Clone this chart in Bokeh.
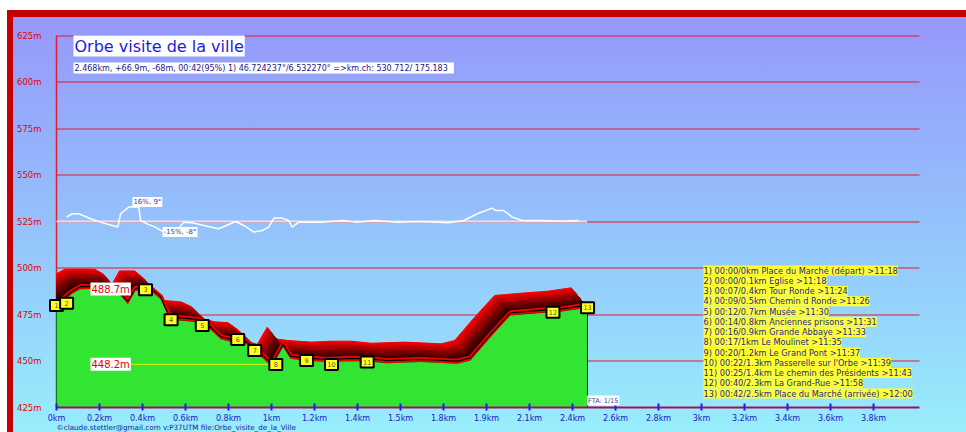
import numpy as np
from bokeh.plotting import figure
from bokeh.models import Range1d, LinearAxis, FixedTicker, Label
from bokeh.core.properties import value
from bokeh.embed import file_html
from bokeh.resources import INLINE

# ---------------- data ----------------
dist_km = [0.0, 0.074, 0.112, 0.150, 0.251, 0.290, 0.332, 0.367, 0.437, 0.484,
           0.518, 0.546, 0.654, 0.701, 0.763, 0.809, 0.871, 0.918, 0.980, 1.008,
           1.054, 1.088, 1.150, 1.259, 1.352, 1.445, 1.538, 1.693, 1.864, 1.926,
           2.019, 2.112, 2.236, 2.360, 2.468]
elev_m = [479.0, 486.1, 488.6, 488.7, 488.6, 486.1, 480.5, 487.7, 487.7, 483.2,
          474.3, 472.1, 471.0, 468.5, 461.7, 460.3, 459.9, 456.0, 449.2, 448.2,
          457.4, 451.2, 450.3, 449.4, 449.9, 449.9, 448.8, 449.4, 448.5, 450.3,
          462.8, 474.5, 475.7, 476.8, 478.6]

slope_km = [0.047, 0.073, 0.104, 0.158, 0.220, 0.285, 0.298, 0.336, 0.383, 0.391,
            0.422, 0.460, 0.499, 0.553, 0.592, 0.639, 0.716, 0.755, 0.833, 0.871,
            0.918, 0.957, 0.987, 1.011, 1.050, 1.080, 1.096, 1.127, 1.228, 1.335,
            1.391, 1.484, 1.585, 1.693, 1.825, 1.894, 1.957, 2.027, 2.042, 2.080,
            2.120, 2.166, 2.251, 2.344, 2.429]
slope_pct = [4.9, 8.6, 8.6, 3.0, -1.8, -6.2, 8.6, 16.0, 16.0, 1.1,
             -2.6, -6.2, -11.8, -11.8, -0.7, -1.8, -6.2, -8.1, 0.0, -4.4,
             -11.8, -10.0, -6.2, 3.8, 3.8, 1.1, -6.2, -0.7, -0.7, 1.1,
             -0.7, 1.1, -0.7, 0.0, -1.4, 1.1, 8.6, 14.9, 12.2, 12.2,
             4.9, 1.1, 1.1, 0.4, 1.1]
slope_max_text, slope_max_km, slope_max_pct = "16%, 9°", 0.353, 16.0
slope_min_text, slope_min_km, slope_min_pct = "-15%, -8°", 0.493, -11.8

marker_num = ["1", "2", "3", "4", "5", "6", "7", "8", "9", "10", "11", "12", "13"]
marker_km = [0.0, 0.047, 0.414, 0.533, 0.678, 0.843, 0.922, 1.020, 1.163, 1.279,
             1.445, 2.309, 2.470]
marker_elev = [479.8, 481.1, 488.3, 472.2, 469.1, 461.6, 455.6, 448.1, 450.3, 448.1,
               449.4, 476.2, 478.6]

wp_time = ["00:00", "00:00", "00:07", "00:09", "00:12", "00:14", "00:16", "00:17",
           "00:20", "00:22", "00:25", "00:40", "00:42"]
wp_dist = ["0km", "0.1km", "0.4km", "0.5km", "0.7km", "0.8km", "0.9km", "1km",
           "1.2km", "1.3km", "1.4km", "2.3km", "2.5km"]
wp_name = ["Place du Marché (départ)", "Eglise", "Tour Ronde", "Chemin d Ronde",
           "Musée", "Anciennes prisons", "Grande Abbaye", "Le Moulinet",
           "Le Grand Pont", "Passerelle sur l'Orbe", "Le chemin des Présidents",
           "La Grand-Rue", "Place du Marché (arrivée)"]
wp_clock = ["11:18", "11:18", "11:24", "11:26", "11:30", "11:31", "11:33", "11:35",
            "11:37", "11:39", "11:43", "11:58", "12:00"]

y_ticks = [425, 450, 475, 500, 525, 550, 575, 600, 625]
y_tick_labels = ["425m", "450m", "475m", "500m", "525m", "550m", "575m", "600m", "625m"]
x_ticks = [0, 0.2, 0.4, 0.6, 0.8, 1.0, 1.2, 1.4, 1.6, 1.8, 2.0, 2.2, 2.4, 2.6, 2.8,
           3.0, 3.2, 3.4, 3.6, 3.8]
x_tick_labels = ["0km", "0.2km", "0.4km", "0.6km", "0.8km", "1km", "1.2km", "1.4km",
                 "1.5km", "1.8km", "1.9km", "2.1km", "2.4km", "2.6km", "2.8km",
                 "3km", "3.2km", "3.4km", "3.6km", "3.8km"]

title_text = "Orbe visite de la ville"
subtitle_text = ("2.468km, +66.9m, -68m, 00:42(95%) 1) 46.724237°/6.532270° "
                 "=>km.ch:  530.712/  175.183")
elev_max, elev_min = 488.7, 448.2
fta_text = "FTA: 1/15"
credit_text = "©claude.stettler@gmail.com v:P37UTM file:Orbe_visite_de_la_Ville"

# ---------------- styling constants ----------------
FONT = "DejaVu Sans"
W, H = 966, 432
ORIGIN_X, ORIGIN_Y = 56, 407      # canvas pixel of (0 km, 425 m)
PX_PER_KM = 215.0
PX_PER_M = 1.86
GRID_END = (919 - ORIGIN_X) / PX_PER_KM
YAXIS_AT = -2 / PX_PER_KM
SLOPE_BASE = 525.0
M_PER_PCT = 0.484
SHADOW_DX, SHADOW_DY, SHADOW_N = 0.074, 10.75, 18
GRID_RED = "#e31b2b"
Y0, Y1 = 425, 625

p = figure(width=W, height=H, output_backend="svg", toolbar_location=None,
           x_range=Range1d(-ORIGIN_X / PX_PER_KM, (W - ORIGIN_X) / PX_PER_KM),
           y_range=Range1d(Y0 - (H - ORIGIN_Y) / PX_PER_M, Y0 + ORIGIN_Y / PX_PER_M),
           x_axis_type=None, y_axis_type=None,
           min_border_left=0, min_border_right=0, min_border_top=0, min_border_bottom=0,
           background_fill_color=None, border_fill_color=None, outline_line_color=None)
p.styles = {"background": (
    "linear-gradient(#c40000,#c40000) 7px 10px / 6px 100% no-repeat, "
    "linear-gradient(#c40000,#c40000) 7px 10px / 100% 7px no-repeat, "
    "linear-gradient(180deg, #9696fb 0%, #94c2fb 50%, #98f0fb 100%) 7px 10px / 100% 100% no-repeat, "
    "white")}

# axes (drawn at fixed positions inside the canvas-wide frame)
yax = LinearAxis(ticker=FixedTicker(ticks=y_ticks, minor_ticks=[]),
                 major_label_overrides=dict(zip(y_ticks, y_tick_labels)),
                 fixed_location=YAXIS_AT, bounds=(Y0, Y1),
                 axis_line_color=None, major_tick_line_color=None, minor_tick_line_color=None,
                 major_label_text_color="#e60000", major_label_text_font=FONT,
                 major_label_text_font_size="8.5px", major_label_standoff=7)
p.add_layout(yax, "left")

xax = LinearAxis(ticker=FixedTicker(ticks=x_ticks, minor_ticks=[]),
                 major_label_overrides=dict(zip(x_ticks, x_tick_labels)),
                 bounds=(0, GRID_END), fixed_location=Y0,
                 axis_line_color="#a0105a", axis_line_width=2,
                 major_tick_line_color="#1a1aff", major_tick_line_width=2,
                 major_tick_in=4, major_tick_out=3, minor_tick_line_color=None,
                 major_label_text_color="#2020c0", major_label_text_font=FONT,
                 major_label_text_font_size="8px", major_label_standoff=3)
p.add_layout(xax, "below")

# grid lines (snapped to the pixel grid so that 1px lines stay crisp) and vertical line
grid_y = np.array(y_ticks[1:], dtype=float)
grid_px = ORIGIN_Y - (grid_y - Y0) * PX_PER_M
grid_y_snap = Y0 + (ORIGIN_Y - (np.floor(grid_px) + 0.5)) / PX_PER_M
p.segment(x0=[0] * len(grid_y), y0=grid_y_snap, x1=[GRID_END] * len(grid_y), y1=grid_y_snap,
          line_color=GRID_RED, line_width=1)
p.segment(x0=[0], y0=[Y0], x1=[0], y1=[Y1], line_color=GRID_RED, line_width=1.5)

# slope curve
d = np.array(dist_km)
e = np.array(elev_m)
p.line([d[0], d[-1]], [SLOPE_BASE, SLOPE_BASE], line_color="#dde4f4", line_width=2)
p.line(slope_km, SLOPE_BASE + np.array(slope_pct) * M_PER_PCT, line_color="white",
       line_width=1.5)
for txt, kx, pc, base in [(slope_max_text, slope_max_km, slope_max_pct, "bottom"),
                          (slope_min_text, slope_min_km, slope_min_pct, "middle")]:
    p.add_layout(Label(x=kx, y=SLOPE_BASE + pc * M_PER_PCT, text=txt,
                       text_font=FONT, text_font_size="7px", text_color="#3a3aa0",
                       text_baseline=base, background_fill_color="white", padding=1))

# shadow (3D extrusion)
xs_list, ys_list, cols = [], [], []
for i in range(SHADOW_N, 0, -1):
    f = i / SHADOW_N
    sx = d - SHADOW_DX * f
    sy = e + SHADOW_DY * f
    y_at0 = float(np.interp(0.0, sx, sy))
    keep = sx > 0
    xs_list.append([0.0, 0.0] + list(sx[keep]) + [d[-1], d[-1]])
    ys_list.append([Y0, y_at0] + list(sy[keep]) + [e[-1], Y0])
    r = int(round(250 * f ** 1.1))
    cols.append("#%02x0000" % r)
p.patches(xs_list, ys_list, fill_color=cols, line_color=cols, line_width=1)

# edge lines and green terrain
p.line(d, e + 1.4, line_color="#ee0000", line_width=5)
p.line(d, e + 1.4, line_color="black", line_width=1.2)
p.varea(x=d, y1=Y0, y2=e, fill_color="#33e533")

# min / max labels
i_min = int(np.argmin(e))
LBL_X = 0.158
p.line([LBL_X, d[i_min]], [elev_min, elev_min], line_color="#e8e800", line_width=1)
for v in (elev_max, elev_min):
    p.add_layout(Label(x=LBL_X, y=v, text="%.1fm" % v, text_font=FONT,
                       text_font_size="10px", text_color="#e60000", text_baseline="middle",
                       background_fill_color="white", padding=1))

# waypoint markers
p.rect(marker_km, marker_elev, width=13, height=11, width_units="screen",
       height_units="screen", fill_color="#ffff22", line_color="black", line_width=2)
p.text(marker_km, marker_elev, text=marker_num, text_align="center",
       text_baseline="middle", text_font=value(FONT), text_font_size="6.5px",
       text_color="#555533")


def sy_px(page_y):
    """screen y (from the bottom of the canvas-wide frame) for a canvas row"""
    return H - page_y


# title and subtitle
p.add_layout(Label(x=73, y=sy_px(35), x_units="screen", y_units="screen", text=title_text,
                   text_font=FONT, text_font_size="16px", text_color="#1a1ae6",
                   text_baseline="top", background_fill_color="white", padding=1))
p.add_layout(Label(x=73, y=sy_px(62), x_units="screen", y_units="screen", text=subtitle_text,
                   text_font=FONT, text_font_size="8px", text_color="#1a1a80",
                   text_baseline="top", background_fill_color="white", padding=1))

# waypoint list
for i in range(len(wp_name)):
    line = "%d) %s/%s %s >%s" % (i + 1, wp_time[i], wp_dist[i], wp_name[i], wp_clock[i])
    p.add_layout(Label(x=703, y=sy_px(270) - i * 10.25, x_units="screen", y_units="screen",
                       text=line, text_font=FONT, text_font_size="8.2px",
                       text_color="#26268c", text_baseline="middle",
                       background_fill_color="#ffff33", padding=0))

# small notes
p.add_layout(Label(x=d[-1], y=Y0, y_offset=2, text=fta_text, text_font=FONT,
                   text_font_size="6.5px", text_color="#3a3aa0", text_baseline="bottom",
                   background_fill_color="white", padding=1))
p.add_layout(Label(x=ORIGIN_X, y=sy_px(427), x_units="screen", y_units="screen",
                   text=credit_text, text_font=FONT, text_font_size="7.2px",
                   text_color="#2020a0", text_baseline="middle"))

open("out.html", "w").write(file_html(p, INLINE))
